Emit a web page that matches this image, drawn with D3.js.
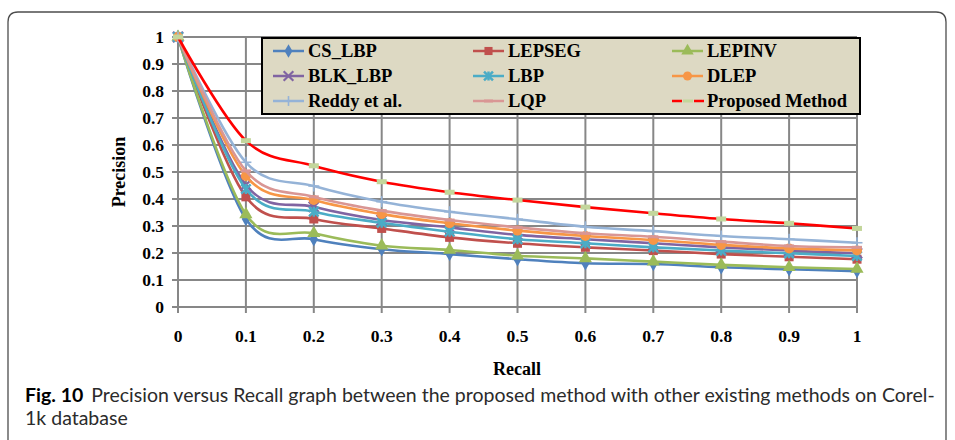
<!DOCTYPE html>
<html><head><meta charset="utf-8">
<script src="https://cdn.jsdelivr.net/npm/d3@7"></script>
<style>body{margin:0;background:#fff}svg{display:block}</style>
</head><body>
<svg id="c" width="955" height="440"></svg>
<script>
const recall = [0,0.1,0.2,0.3,0.4,0.5,0.6,0.7,0.8,0.9,1];
const xTicks = ["0","0.1","0.2","0.3","0.4","0.5","0.6","0.7","0.8","0.9","1"];
const yTicks = ["0","0.1","0.2","0.3","0.4","0.5","0.6","0.7","0.8","0.9","1"];
const seriesNames = ["CS_LBP","LEPSEG","LEPINV","BLK_LBP","LBP","DLEP","Reddy et al.","LQP","Proposed Method"];
const csLbp   = [1,0.326,0.251,0.214,0.196,0.177,0.162,0.159,0.147,0.140,0.133];
const lepseg  = [1,0.408,0.326,0.291,0.258,0.236,0.221,0.209,0.196,0.186,0.177];
const lepinv  = [1,0.343,0.273,0.227,0.211,0.190,0.180,0.168,0.156,0.147,0.141];
const blkLbp  = [1,0.452,0.371,0.322,0.295,0.267,0.251,0.236,0.221,0.209,0.199];
const lbp     = [1,0.437,0.353,0.312,0.279,0.251,0.236,0.221,0.209,0.199,0.189];
const dlep    = [1,0.485,0.396,0.344,0.310,0.283,0.263,0.248,0.230,0.217,0.209];
const reddy   = [1,0.536,0.448,0.390,0.353,0.325,0.297,0.281,0.263,0.251,0.238];
const lqp     = [1,0.504,0.408,0.357,0.322,0.295,0.273,0.260,0.242,0.226,0.221];
const proposed= [1,0.616,0.523,0.464,0.425,0.396,0.370,0.347,0.326,0.310,0.291];
const seriesValues = [csLbp,lepseg,lepinv,blkLbp,lbp,dlep,reddy,lqp,proposed];
const captionBold = "Fig. 10";
const captionLine1 = "Precision versus Recall graph between the proposed method with other existing methods on Corel-";
const captionLine2 = "1k database";

const styles = [
  {color:"#4f81bd", marker:"diamond", mcolor:"#4f81bd"},
  {color:"#c0504d", marker:"square",  mcolor:"#c0504d"},
  {color:"#9bbb59", marker:"triangle",mcolor:"#9bbb59"},
  {color:"#8064a2", marker:"x",       mcolor:"#8064a2"},
  {color:"#4bacc6", marker:"star",    mcolor:"#4bacc6"},
  {color:"#f79646", marker:"circle",  mcolor:"#f79646"},
  {color:"#95b3d7", marker:"plus",    mcolor:"#95b3d7"},
  {color:"#d99694", marker:"dash",    mcolor:"#d99694"},
  {color:"#ff0000", marker:"rect",    mcolor:"#c3d69b"}
];

const serif = "'Liberation Serif','Times New Roman',serif";
const svg = d3.select("#c");
svg.append("path")
  .attr("d","M8,460 L8,22 Q8,12 18,12 L936,12 Q946,12 946,22 L946,460")
  .attr("fill","none").attr("stroke","#4d4d4d").attr("stroke-width",1.3);

const x = d3.scaleLinear().domain([0,1]).range([178,857]);
const y = d3.scaleLinear().domain([0,1]).range([307,37]);
const gridC = "#878787";

const g = svg.append("g");
g.selectAll(".hg").data(yTicks).join("line")
  .attr("x1",x(0)-6).attr("x2",x(1)).attr("y1",d=>y(+d)).attr("y2",d=>y(+d))
  .attr("stroke",gridC).attr("stroke-width",2);
g.selectAll(".vg").data(xTicks).join("line")
  .attr("y1",y(0)+6).attr("y2",y(1)).attr("x1",d=>x(+d)).attr("x2",d=>x(+d))
  .attr("stroke",gridC).attr("stroke-width",2);
g.selectAll(".yl").data(yTicks).join("text")
  .attr("x",164).attr("y",d=>y(+d)).attr("dy","0.35em").attr("text-anchor","end")
  .attr("font-family",serif).attr("font-weight","bold")
  .attr("font-size",17.5).attr("fill","#000").text(d=>d);
g.selectAll(".xl").data(xTicks).join("text")
  .attr("x",d=>x(+d)).attr("y",336).attr("dy","0.35em").attr("text-anchor","middle")
  .attr("font-family",serif).attr("font-weight","bold")
  .attr("font-size",17.5).attr("fill","#000").text(d=>d);
svg.append("text").attr("transform","translate(119,172) rotate(-90)")
  .attr("text-anchor","middle").attr("dy","0.35em")
  .attr("font-family",serif).attr("font-weight","bold")
  .attr("font-size",18).text("Precision");
svg.append("text").attr("x",517).attr("y",369).attr("text-anchor","middle").attr("dy","0.35em")
  .attr("font-family",serif).attr("font-weight","bold")
  .attr("font-size",18).text("Recall");

function drawMarker(sel, type, color, s){
  s = s||1;
  if(type==="diamond") sel.append("path").attr("d",d3.symbol(d3.symbolDiamond,60*s)()).attr("fill",color);
  else if(type==="square") sel.append("rect").attr("x",-4.5*s).attr("y",-4.5*s).attr("width",9*s).attr("height",9*s).attr("fill",color);
  else if(type==="triangle") sel.append("path").attr("d",d3.symbol(d3.symbolTriangle,75*s)()).attr("fill",color);
  else if(type==="circle") sel.append("circle").attr("r",5*s).attr("fill",color);
  else if(type==="x") sel.append("path").attr("d",d3.symbol(d3.symbolTimes,70*s)()).attr("fill","none").attr("stroke",color).attr("stroke-width",2.2);
  else if(type==="star"){ sel.append("path").attr("d",d3.symbol(d3.symbolTimes,60*s)()).attr("fill","none").attr("stroke",color).attr("stroke-width",2.5);
    sel.append("line").attr("x1",0).attr("x2",0).attr("y1",-5*s).attr("y2",5*s).attr("stroke",color).attr("stroke-width",2.5);}
  else if(type==="plus"){
    sel.append("line").attr("x1",-5.5*s).attr("x2",5.5*s).attr("y1",0).attr("y2",0).attr("stroke",color).attr("stroke-width",1.6);
    sel.append("line").attr("x1",0).attr("x2",0).attr("y1",-5.5*s).attr("y2",5.5*s).attr("stroke",color).attr("stroke-width",1.6);}
  else if(type==="dash") sel.append("rect").attr("x",-5*s).attr("y",-1.5).attr("width",10*s).attr("height",3).attr("fill",color);
  else if(type==="rect") sel.append("rect").attr("x",-5*s).attr("y",-2.5).attr("width",10*s).attr("height",5).attr("fill",color);
}

const line = d3.line().x((d,i)=>x(recall[i])).y(d=>y(d)).curve(d3.curveCardinal.tension(0));
seriesValues.forEach((vals,k)=>{
  const st = styles[k];
  const sg = svg.append("g");
  sg.append("path").attr("d",line(vals)).attr("fill","none")
    .attr("stroke",st.color).attr("stroke-width",2.6);
  vals.forEach((v,i)=>{
    const mg = sg.append("g").attr("transform",`translate(${x(recall[i])},${y(v)})`);
    drawMarker(mg, st.marker, st.mcolor, 1);
  });
});

const lg = svg.append("g");
lg.append("rect").attr("x",262).attr("y",38).attr("width",598).attr("height",76)
  .attr("fill","#ddd9c3").attr("stroke","#000").attr("stroke-width",2);
const colX = [273,473,672];
const rowY = [51,76,101];
seriesNames.forEach((name,k)=>{
  const cx = colX[k%3], cy = rowY[Math.floor(k/3)];
  const st = styles[k];
  const it = lg.append("g");
  if(st.marker==="rect"){
    it.append("line").attr("x1",cx).attr("x2",cx+32).attr("y1",cy).attr("y2",cy)
      .attr("stroke",st.color).attr("stroke-width",2.5).attr("stroke-dasharray","10,12");
    it.append("rect").attr("x",cx+11).attr("y",cy-1.5).attr("width",10).attr("height",3).attr("fill",st.mcolor);
  } else {
    it.append("line").attr("x1",cx).attr("x2",cx+31).attr("y1",cy).attr("y2",cy)
      .attr("stroke",st.color).attr("stroke-width",2.5);
    const mg = it.append("g").attr("transform",`translate(${cx+15.5},${cy})`);
    drawMarker(mg, st.marker, st.mcolor, 0.9);
  }
  it.append("text").attr("x",cx+35).attr("y",cy).attr("dy","0.35em")
    .attr("font-family",serif).attr("font-weight","bold")
    .attr("font-size",18.5).attr("fill","#000").text(name);
});

const capFont = "Lato,'Open Sans',sans-serif";
const cap1 = svg.append("text").attr("x",25).attr("y",402)
  .attr("font-family",capFont).attr("font-size",20).attr("fill","#2b2b2b");
cap1.append("tspan").attr("font-weight","bold").attr("fill","#000").text(captionBold);
cap1.append("tspan").attr("dx",8).text(captionLine1);
const natural = cap1.node().getComputedTextLength() + 8;
let fs = 20;
if (natural > 0) fs = Math.min(20, 20 * 910 / natural);
cap1.attr("font-size", fs);
svg.append("text").attr("x",25).attr("y",425)
  .attr("font-family",capFont).attr("font-size",fs).attr("fill","#2b2b2b")
  .text(captionLine2);
</script>
</body></html>
